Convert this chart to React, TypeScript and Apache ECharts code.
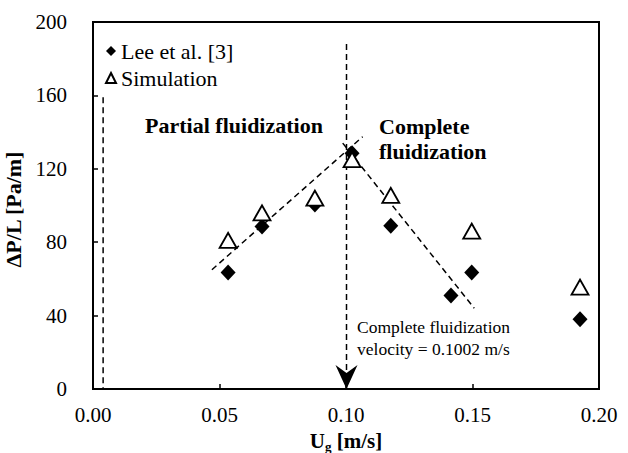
import React, { useEffect, useRef } from "react";
import * as echarts from "echarts";

const leeX = [0.0534, 0.0668, 0.0877, 0.1024, 0.1177, 0.1415, 0.1497, 0.1925];
const leeY = [63.5, 88.5, 100.5, 128.5, 89, 51, 63.5, 38];
const simX = [0.0534, 0.0668, 0.0877, 0.1024, 0.1177, 0.1497, 0.1925];
const simY = [81, 96, 104, 125, 105.5, 86, 55.5];
const partialTrend = [[0.047, 65], [0.1066, 137.5]];
const completeTrend = [[0.0987, 134], [0.1507, 44]];
const leftMarker = [[0.004, 159], [0.004, 0]];
const completeVelocity = 0.1002;
const velocityLineTop = 188;
const xTicks = [0, 0.05, 0.1, 0.15, 0.2];
const yTicks = [0, 40, 80, 120, 160, 200];

const FONT = "Liberation Serif";
const ARROW = "path://M0,0L11,8L22,0L11,24Z";

export default function App() {
  const ref = useRef<HTMLDivElement>(null);
  useEffect(() => {
    if (!ref.current) return;
    const chart = echarts.init(ref.current, null, { renderer: "svg" });
    const dashed = { color: "#000", width: 1.5, type: [6, 4] as any };
    const option: any = {
      animation: false,
      backgroundColor: "#fff",
      textStyle: { fontFamily: FONT, color: "#000" },
      grid: {
        left: 93, right: 29, top: 22, bottom: 64,
        show: true, borderColor: "#000", borderWidth: 2,
        outerBoundsMode: "none",
      },
      legend: {
        orient: "vertical",
        left: 100, top: 35,
        itemWidth: 10, itemHeight: 10, itemGap: 5,
        textStyle: { fontFamily: FONT, fontSize: 22, color: "#000" },
        data: ["Lee et al. [3]", "Simulation"],
      },
      xAxis: {
        type: "value",
        min: xTicks[0], max: xTicks[xTicks.length - 1], interval: xTicks[1] - xTicks[0],
        axisLine: { show: true, lineStyle: { color: "#000", width: 2 } },
        axisTick: { show: true, inside: true, length: 5, lineStyle: { color: "#000", width: 1.5 } },
        axisLabel: { color: "#000", fontFamily: FONT, fontSize: 21, margin: 15, formatter: (v: number) => v.toFixed(2) },
        splitLine: { show: false },
        name: "{b|U}{s|g}{b| [m/s]}",
        nameLocation: "middle",
        nameGap: 37,
        nameTextStyle: {
          rich: {
            b: { fontFamily: FONT, fontWeight: "bold", fontSize: 21, color: "#000", lineHeight: 22 },
            s: { fontFamily: FONT, fontWeight: "bold", fontSize: 13, color: "#000", lineHeight: 22, padding: [10, 0, 0, 0] },
          },
        },
      },
      yAxis: {
        type: "value",
        min: yTicks[0], max: yTicks[yTicks.length - 1], interval: yTicks[1] - yTicks[0],
        axisLine: { show: true, lineStyle: { color: "#000", width: 2 } },
        axisTick: { show: true, inside: true, length: 5, lineStyle: { color: "#000", width: 1.5 } },
        axisLabel: { color: "#000", fontFamily: FONT, fontSize: 21, margin: 26 },
        splitLine: { show: false },
        name: "ΔP/L [Pa/m]",
        nameLocation: "middle",
        nameGap: 56,
        nameTextStyle: { fontFamily: FONT, fontWeight: "bold", fontSize: 22, color: "#000", padding: [0, 8, 0, 0] },
      },
      series: [
        {
          type: "line", data: partialTrend, showSymbol: false, symbol: "none", silent: true,
          lineStyle: dashed, z: 1,
        },
        {
          type: "line", data: completeTrend, showSymbol: false, symbol: "none", silent: true,
          lineStyle: dashed, z: 1,
        },
        {
          type: "line", data: leftMarker, showSymbol: false, symbol: "none", silent: true,
          lineStyle: dashed, z: 1,
        },
        {
          type: "line", data: [[completeVelocity, velocityLineTop], [completeVelocity, 0]],
          showSymbol: false, symbol: "none", silent: true,
          lineStyle: dashed, z: 1,
        },
        {
          type: "scatter", data: [[completeVelocity, 0]], symbol: ARROW, symbolSize: [22, 24],
          symbolOffset: [0, -12], itemStyle: { color: "#000", opacity: 1 }, silent: true, z: 3,
        },
        {
          name: "Lee et al. [3]", type: "scatter",
          data: leeX.map((x, i) => [x, leeY[i]]),
          symbol: "diamond", symbolSize: [15, 16],
          itemStyle: { color: "#000", opacity: 1 }, z: 4,
        },
        {
          name: "Simulation", type: "scatter",
          data: simX.map((x, i) => [x, simY[i]]),
          symbol: "triangle", symbolSize: [17, 15],
          itemStyle: { color: "#fff", borderColor: "#000", borderWidth: 1.8, opacity: 1 }, z: 5,
        },
      ],
      graphic: [
        {
          type: "text", x: 234, y: 125,
          style: { text: "Partial fluidization", fontFamily: FONT, fontWeight: "bold", fontSize: 22, fill: "#000", align: "center", verticalAlign: "middle" },
        },
        {
          type: "text", x: 379, y: 114,
          style: { text: "Complete\nfluidization", fontFamily: FONT, fontWeight: "bold", fontSize: 22, lineHeight: 25, fill: "#000", align: "left", verticalAlign: "top" },
        },
        {
          type: "text", x: 357, y: 316,
          style: { text: "Complete fluidization\nvelocity = 0.1002 m/s", fontFamily: FONT, fontSize: 17.5, lineHeight: 22, fill: "#000", align: "left", verticalAlign: "top" },
        },
      ],
    };
    chart.setOption(option);
    return () => chart.dispose();
  }, []);
  return <div ref={ref} style={{ width: 628, height: 453, position: "absolute", left: 0, top: 0, background: "#fff" }} />;
}
